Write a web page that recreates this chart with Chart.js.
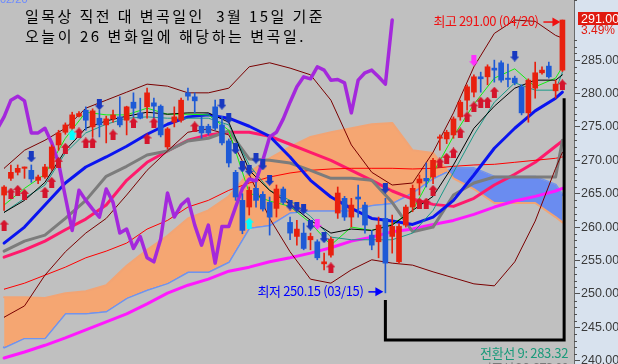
<!DOCTYPE html>
<html><head><meta charset="utf-8">
<script src="https://cdn.jsdelivr.net/npm/chart.js@4.4.1/dist/chart.umd.min.js"></script>
<style>html,body{margin:0;padding:0;background:#d8e2ee;overflow:hidden}canvas{display:block}</style>
</head><body>
<canvas id="c" width="618" height="364"></canvas>
<script>
// ---- candles (index 0..82, last = 04/20, index 56 = 03/15) ----
const opens = [264.8,267.3,268.2,268.8,268.5,267.0,267.5,268.8,272.3,274.2,
274.8,276.6,277.5,275.0,276.3,275.3,276.2,276.5,276.0,278.7,
277.1,278.0,278.6,278.1,272.0,275.7,276.0,280.1,279.5,275.1,
275.1,278.0,275.3,272.9,268.2,264.0,263.0,265.8,264.9,263.7,
262.8,265.7,260.7,258.6,259.1,258.1,257.8,254.5,255.8,262.1,
264.3,261.5,264.5,263.3,258.8,257.8,261.3,258.6,254.8,260.3,
263.0,266.6,267.3,267.5,273.3,273.2,273.8,276.5,279.0,280.2,
282.5,282.5,283.8,284.6,282.3,282.3,281.0,277.1,280.8,283.1,
284.1,280.4,283.5];
const highs = [266.2,269.3,269.3,269.0,269.3,267.8,269.4,272.3,274.5,275.6,
277.2,277.3,278.0,277.7,277.5,276.6,277.5,279.5,278.1,280.1,
279.3,280.8,279.3,278.3,274.9,278.0,279.3,280.8,280.1,276.5,
275.4,279.0,276.6,273.2,268.5,265.0,266.0,266.7,265.3,264.5,
266.3,266.0,261.5,261.0,260.6,259.1,258.1,256.1,258.5,266.0,
264.6,264.3,266.3,263.7,259.5,261.5,264.3,261.8,260.5,263.3,
266.3,267.8,269.6,270.3,273.8,274.5,276.5,279.0,281.3,282.8,
283.2,284.3,285.0,284.9,284.4,282.6,281.3,282.2,284.7,284.0,
284.7,282.0,291.0];
const lows = [262.5,267.0,267.8,267.3,266.7,266.5,267.3,268.5,271.5,273.9,
274.5,276.5,274.5,273.5,273.5,272.6,275.7,275.0,273.8,276.5,
276.2,276.3,276.3,273.5,271.7,275.0,275.7,279.0,277.1,273.3,
273.8,274.5,272.3,269.0,264.0,259.0,261.8,263.0,262.4,258.8,
261.5,263.4,258.1,257.3,256.6,256.6,255.1,253.6,255.5,261.3,
261.0,260.0,261.5,259.1,256.6,255.4,250.15,256.1,254.6,260.0,
262.3,264.8,266.0,266.5,271.5,272.5,273.3,276.0,277.5,279.5,
280.2,281.3,281.7,281.7,281.0,281.3,276.8,275.7,279.3,282.9,
282.3,279.3,283.3];
const closes = [266.0,268.2,268.8,269.0,267.2,267.5,269.0,272.0,274.1,275.3,
276.8,277.0,276.0,277.4,275.3,276.2,276.8,275.3,278.0,277.8,
276.3,280.1,278.1,273.8,274.7,276.5,279.0,279.6,278.9,274.1,
274.1,274.8,272.6,269.6,264.5,259.5,265.5,264.0,262.7,261.5,
265.7,263.7,259.1,259.7,256.8,258.6,255.4,254.8,258.2,265.1,
261.5,263.3,264.2,260.3,257.3,260.3,254.6,260.1,260.1,263.0,
265.8,267.2,266.9,270.0,273.5,274.2,276.2,278.7,281.0,282.5,
282.2,284.0,283.5,282.0,282.1,281.6,277.1,282.0,283.1,283.5,
282.5,281.4,291.0];

// ---- indicator lines, read at these candle indices ----
const lineIdx = [0,3,6,9,12,15,18,21,24,27,30,33,36,39,42,45,48,51,54,57,60,63,66,69,72,75,78,81,82];
const ma5    = [263.3,265.8,267.9,273.3,277.2,276.8,276.8,277.8,276.9,276.9,276.8,274.5,265.1,263.9,263.1,260.6,257.3,260.0,259.5,260.4,262.5,268.1,273.6,278.4,282.3,283.7,281.0,282.3,284.0];
const tenkan = [262.2,264.3,266.3,271.1,274.1,275.4,276.3,276.5,276.3,276.3,276.3,275.3,269.3,265.5,264.0,261.6,258.5,258.1,258.1,258.1,259.1,262.5,268.2,273.8,278.7,281.6,280.5,280.5,283.2];
const ma20   = [262.2,264.0,266.7,271.5,274.8,275.9,276.6,277.2,276.9,277.1,277.1,275.7,268.5,265.5,263.4,261.0,259.1,259.7,259.5,260.3,262.5,264.6,269.3,274.8,278.1,280.8,282.0,282.0,282.8];
const maBlue = [257.6,260.0,263.3,266.6,269.0,270.5,272.1,273.9,275.4,276.5,276.8,276.3,275.1,273.6,270.5,267.0,264.5,262.8,261.3,260.9,260.4,261.5,264.0,267.8,271.8,274.8,277.4,279.3,280.2];
const kijun  = [256.4,257.9,258.8,261.3,264.0,267.6,269.1,270.8,271.4,272.9,273.3,274.4,270.2,270.0,269.6,268.5,267.3,267.3,267.0,263.7,259.3,260.0,264.8,266.6,267.5,267.5,267.5,267.5,273.0];
const maPink = [255.5,256.6,257.9,259.6,261.2,263.3,267.0,269.7,271.4,273.0,273.8,274.2,274.2,273.6,272.4,271.2,270.0,268.5,267.0,265.4,264.2,263.4,263.1,264.3,266.3,267.9,269.7,272.1,272.9];
const maRed  = [250.7,251.6,252.8,254.0,255.4,256.4,257.6,259.7,261.0,263.0,264.0,265.5,266.6,267.5,268.1,268.5,268.7,268.8,268.8,268.8,268.7,268.8,269.1,269.3,269.4,269.7,270.0,270.3,270.5];
const maMag  = [240.4,241.3,242.3,243.4,244.6,245.8,247.0,248.5,250.1,251.3,252.2,253.4,254.0,254.8,255.4,256.1,256.9,257.9,258.5,259.3,259.7,260.4,261.0,261.9,263.0,263.9,264.6,265.4,265.8];
const bbUpper= [268.8,271.5,273.0,274.8,277.8,279.0,280.2,281.4,281.1,280.1,280.1,280.8,284.0,284.6,283.8,282.8,279.0,272.3,268.2,266.3,266.6,271.2,277.1,284.0,289.0,291.0,290.8,288.7,288.3];
const bbLower= [246.5,248.2,252.8,256.3,259.1,261.3,264.8,268.5,271.4,274.2,274.7,273.8,267.9,261.3,256.3,252.2,251.6,253.6,255.1,254.6,254.3,253.3,252.4,251.5,251.2,254.8,260.9,268.8,271.2];
const spanA  = [242.0,243.4,243.4,247.1,247.1,247.4,249.4,250.6,251.6,253.3,253.3,254.8,259.9,260.3,262.2,262.5,262.5,262.5,263.3,263.6,265.2,267.3,268.8,268.8,267.5,267.5,267.5,266.3,264.8];
const spanB  = [249.5,249.5,249.4,250.1,250.4,251.3,254.2,256.6,258.7,261.3,262.5,264.6,268.2,270.3,272.0,273.5,274.2,274.8,275.4,275.6,271.5,271.1,267.3,265.7,263.6,263.6,263.6,261.5,260.7];
// lagging span, starting at index -1
const chikouStart = -1;
const chikou = [274.7,276.5,279.0,279.6,278.9,274.1,274.1,274.8,272.6,269.6,264.5,259.5,265.5,264.0,262.7,261.5,265.7,263.7,259.1,259.7,256.8,258.6,255.4,254.8,258.2,265.1,261.5,263.3,264.2,260.3,257.3,260.3,254.6,260.1,260.1,263.0,265.8,267.2,266.9,270.0,273.5,274.2,276.2,278.7,281.0,282.5,282.2,284.0,283.5,282.0,282.1,281.6,277.1,282.0,283.1,283.5,282.5,281.4,291.0];

// ---- signal arrows ----
const redUpIdx = [0,1,2,3,6,7,8,9,11,12,13,16,19,21,22,28,48,61,62,63,64,65,66,67,68,69,70,71,72,82];
const redUpVal = [260.3,265.1,265.5,264.9,265.2,266.7,269.7,271.8,274.1,272.6,272.6,273.8,275.6,273.2,275.6,275.0,253.9,263.6,263.6,265.5,269.6,270.3,271.1,274.1,276.5,278.0,278.7,278.7,280.2,281.3];
const blueDnIdx = [4,14,32,33,34,35,36,37,38,39,42,43,44,45,47,56,75];
const blueDnVal = [270.5,278.3,278.4,276.3,271.7,269.0,268.5,270.3,269.3,267.0,263.3,263.0,262.7,260.3,258.4,265.8,285.6];
const magDnIdx = [46,69];
const magDnVal = [260.4,284.9];
const cyanUpIdx = [10,36];
const cyanUpVal = [273.8,260.6];

// ---- annotation box ----
const boxX = [56,56,82.25,82.25];
const boxY = [249.1,243.1,243.1,279.3];

// ---- texts ----
const titleLines = ['일목상 직전 대 변곡일인  3월 15일 기준','오늘이 26 변화일에 해당하는 변곡일.'];
const highIdx = 82, highVal = 291.00, highLabel = '최고 291.00 (04/20)';
const lowIdx = 56, lowVal = 250.15, lowLabel = '최저 250.15 (03/15)';
const lastLabel = '291.00', pctLabel = '3.49%';
const tenkanLabel = '전환선 9: 283.32', kijunLabel = '기준선 26: 273.00';
const topDate = '02/20';

const lastClose = closes[closes.length - 1];
const pts = (xs, ys) => xs.map((x, k) => ({x, y: ys[k]}));
function lineDS(ys, color, width, order, xs) {
  return {type:'line', data: pts(xs || lineIdx, ys), borderColor: color, borderWidth: width,
    pointRadius: 0, fill: false, order, tension: 0, borderCapStyle:'round', borderJoinStyle:'round'};
}
const idxAll = closes.map((_, i) => i);
const RED = '#e8200e', BLUE = '#1e5ad6';
const candleColors = closes.map((c, i) => c >= opens[i] ? RED : BLUE);

function arrowCanvas(color) {
  const cv = document.createElement('canvas'); cv.width = 9; cv.height = 11;
  const g = cv.getContext('2d'); g.fillStyle = color;
  g.beginPath(); g.moveTo(4.5, 0); g.lineTo(9, 5); g.lineTo(0, 5); g.closePath(); g.fill();
  g.fillRect(2, 5, 5, 6);
  return cv;
}
function arrowDS(xs, ys, color, down) {
  return {type:'scatter', data: pts(xs, ys), pointStyle: arrowCanvas(color), pointRadius: 4,
    rotation: down ? 180 : 0, order: 0, showLine: false};
}

function fitText(ctx, txt, x, y, w, font, color) {
  ctx.save();
  ctx.font = font; ctx.fillStyle = color; ctx.textAlign = 'left'; ctx.textBaseline = 'alphabetic';
  const m = ctx.measureText(txt).width;
  const n = [...txt].length;
  let ok = false;
  if ('letterSpacing' in ctx) {
    ctx.letterSpacing = ((w - m) / n).toFixed(2) + 'px';
    const m2 = ctx.measureText(txt).width;
    if (Math.abs(m2 - m) > 0.5 || Math.abs(w - m) < 1) ok = true;
  }
  if (ok) { ctx.fillText(txt, x, y); }
  else { ctx.translate(x, y); ctx.scale(w / m, 1); ctx.fillText(txt, 0, 0); }
  ctx.restore();
}
function hArrow(ctx, x1, x2, y, color) {
  ctx.save(); ctx.strokeStyle = color; ctx.fillStyle = color; ctx.lineWidth = 1.5;
  ctx.beginPath(); ctx.moveTo(x1, y); ctx.lineTo(x2 - 6, y); ctx.stroke();
  ctx.beginPath(); ctx.moveTo(x2, y); ctx.lineTo(x2 - 8, y - 4.5); ctx.lineTo(x2 - 8, y + 4.5); ctx.closePath(); ctx.fill();
  ctx.restore();
}

const bgPlugin = {id:'bg', beforeDraw(c) {
  const {ctx, chartArea: a} = c; ctx.save();
  ctx.fillStyle = '#d8e2ee'; ctx.fillRect(0, 0, c.width, c.height);
  ctx.fillStyle = '#c0c0c0'; ctx.fillRect(a.left, a.top, a.right - a.left, a.bottom - a.top);
  ctx.restore();
}};
const txtPlugin = {id:'txt', afterDraw(c) {
  const ctx = c.ctx, xs = c.scales.x, ys = c.scales.y, a = c.chartArea;
  // minor ticks
  ctx.save(); ctx.strokeStyle = '#505050'; ctx.lineWidth = 1;
  for (let v = Math.ceil(ys.min); v <= ys.max; v++) {
    if (v % 5 === 0 || Math.abs(v - lastClose) < 3) continue;
    const y = Math.round(ys.getPixelForValue(v)) + 0.5;
    ctx.beginPath(); ctx.moveTo(a.right, y); ctx.lineTo(a.right + 3, y); ctx.stroke();
  }
  ctx.restore();
  // top-left date
  ctx.save(); ctx.font = '11px "Liberation Sans"'; ctx.fillStyle = '#6a88ff'; ctx.fillText(topDate, 0, 3); ctx.restore();
  // titles
  fitText(ctx, titleLines[0], 25, 22, 300, '15px "Noto Sans CJK KR"', '#000000');
  fitText(ctx, titleLines[1], 25, 42, 281, '15px "Noto Sans CJK KR"', '#000000');
  // high label
  const hx = xs.getPixelForValue(highIdx), hy = ys.getPixelForValue(highVal);
  fitText(ctx, highLabel, hx - 129, hy + 6, 105, '13px "Noto Sans CJK KR"', '#f01010');
  hArrow(ctx, hx - 19, hx - 2, hy + 2, '#f01010');
  // low label
  const lx = xs.getPixelForValue(lowIdx), ly = ys.getPixelForValue(lowVal);
  fitText(ctx, lowLabel, lx - 128, ly + 3, 106, '13px "Noto Sans CJK KR"', '#0000ff');
  hArrow(ctx, lx - 17, lx - 2, ly - 1, '#0000ff');
  // bottom labels
  fitText(ctx, tenkanLabel, 480, 358, 88, '13px "Noto Sans CJK KR"', '#1a9a7a');
  fitText(ctx, kijunLabel, 480, 373, 88, '13px "Noto Sans CJK KR"', '#7a7a7a');
  // last price box on axis
  const py = ys.getPixelForValue(lastClose);
  ctx.save();
  ctx.fillStyle = '#e01a10'; ctx.fillRect(a.right + 4, Math.round(py) - 8, 44, 13);
  ctx.font = '12.5px "Liberation Sans"'; ctx.fillStyle = '#ffffff'; ctx.textBaseline = 'alphabetic';
  ctx.fillText(lastLabel, a.right + 7, py + 3);
  ctx.fillStyle = '#e01a10'; ctx.font = '12px "Liberation Sans"';
  ctx.fillText(pctLabel, a.right + 7, py + 14);
  ctx.restore();
}};

const datasets = [
  lineDS(spanA, '#6e94f0', 2.5, 20),
  Object.assign(lineDS(spanB, '#f2a474', 2, 19), {fill: {target: 0, above: '#f5a672', below: '#6a8cf0'}}),
  lineDS(maMag, '#ff18ff', 3, 9),
  lineDS(maRed, '#ff0000', 1, 8),
  lineDS(maPink, '#ff1a6c', 3, 8),
  lineDS(maBlue, '#0a14f0', 3, 7),
  lineDS(kijun, '#7c7c7c', 3, 7),
  lineDS(bbUpper, '#7a0000', 1, 6),
  lineDS(bbLower, '#7a0000', 1, 6),
  lineDS(ma20, '#000000', 1, 5),
  lineDS(tenkan, '#1a9a88', 1, 5),
  lineDS(ma5, '#10f010', 1, 5),
  lineDS(chikou, '#a428dc', 3.5, 4, chikou.map((_, k) => chikouStart + k)),
  {type:'bar', data: idxAll.map(i => ({x: i, y: [lows[i], highs[i]]})), backgroundColor: candleColors,
    grouped: false, maxBarThickness: 1, categoryPercentage: 1, barPercentage: 1, borderWidth: 0, order: 3},
  {type:'bar', data: idxAll.map(i => ({x: i, y: [opens[i], closes[i]]})), backgroundColor: candleColors,
    grouped: false, maxBarThickness: 5, categoryPercentage: 1, barPercentage: 1, borderWidth: 0, minBarLength: 1, order: 2},
  Object.assign(lineDS(boxY, '#000000', 3, 1, boxX), {borderCapStyle:'butt', borderJoinStyle:'miter'}),
  arrowDS(redUpIdx, redUpVal, '#d4142c', false),
  arrowDS(blueDnIdx, blueDnVal, '#1838c0', true),
  arrowDS(magDnIdx, magDnVal, '#ff30ff', true),
  arrowDS(cyanUpIdx, cyanUpVal, '#00ffff', false)
];

new Chart(document.getElementById('c'), {
  type: 'line',
  data: {datasets},
  options: {
    responsive: false, animation: false, devicePixelRatio: 1, events: [],
    layout: {padding: 0, autoPadding: false},
    plugins: {legend: {display: false}, tooltip: {enabled: false}},
    scales: {
      x: {type: 'linear', min: -0.6, max: 83.7, display: false, offset: false},
      y: {type: 'linear', position: 'right', min: 239.5, max: 294,
        afterFit(s) { s.width = 44; s.paddingTop = 0; s.paddingBottom = 0; },
        border: {display: true, color: '#6a6a6a', width: 1},
        grid: {drawOnChartArea: false, drawTicks: true, tickLength: 6, tickWidth: 1,
          tickColor: (ctx) => (ctx.tick && ctx.tick.value % 5 === 0 && Math.abs(ctx.tick.value - lastClose) >= 3) ? '#505050' : 'rgba(0,0,0,0)'},
        ticks: {stepSize: 1, autoSkip: false, padding: 1, color: '#3a3a3a',
          font: {family: 'Liberation Sans', size: 12.5, lineHeight: 0.05},
          callback: (v) => (v % 5 === 0 && Math.abs(v - lastClose) >= 3) ? v.toFixed(2) : ''}
      }
    }
  },
  plugins: [bgPlugin, txtPlugin]
});
</script>
</body></html>
